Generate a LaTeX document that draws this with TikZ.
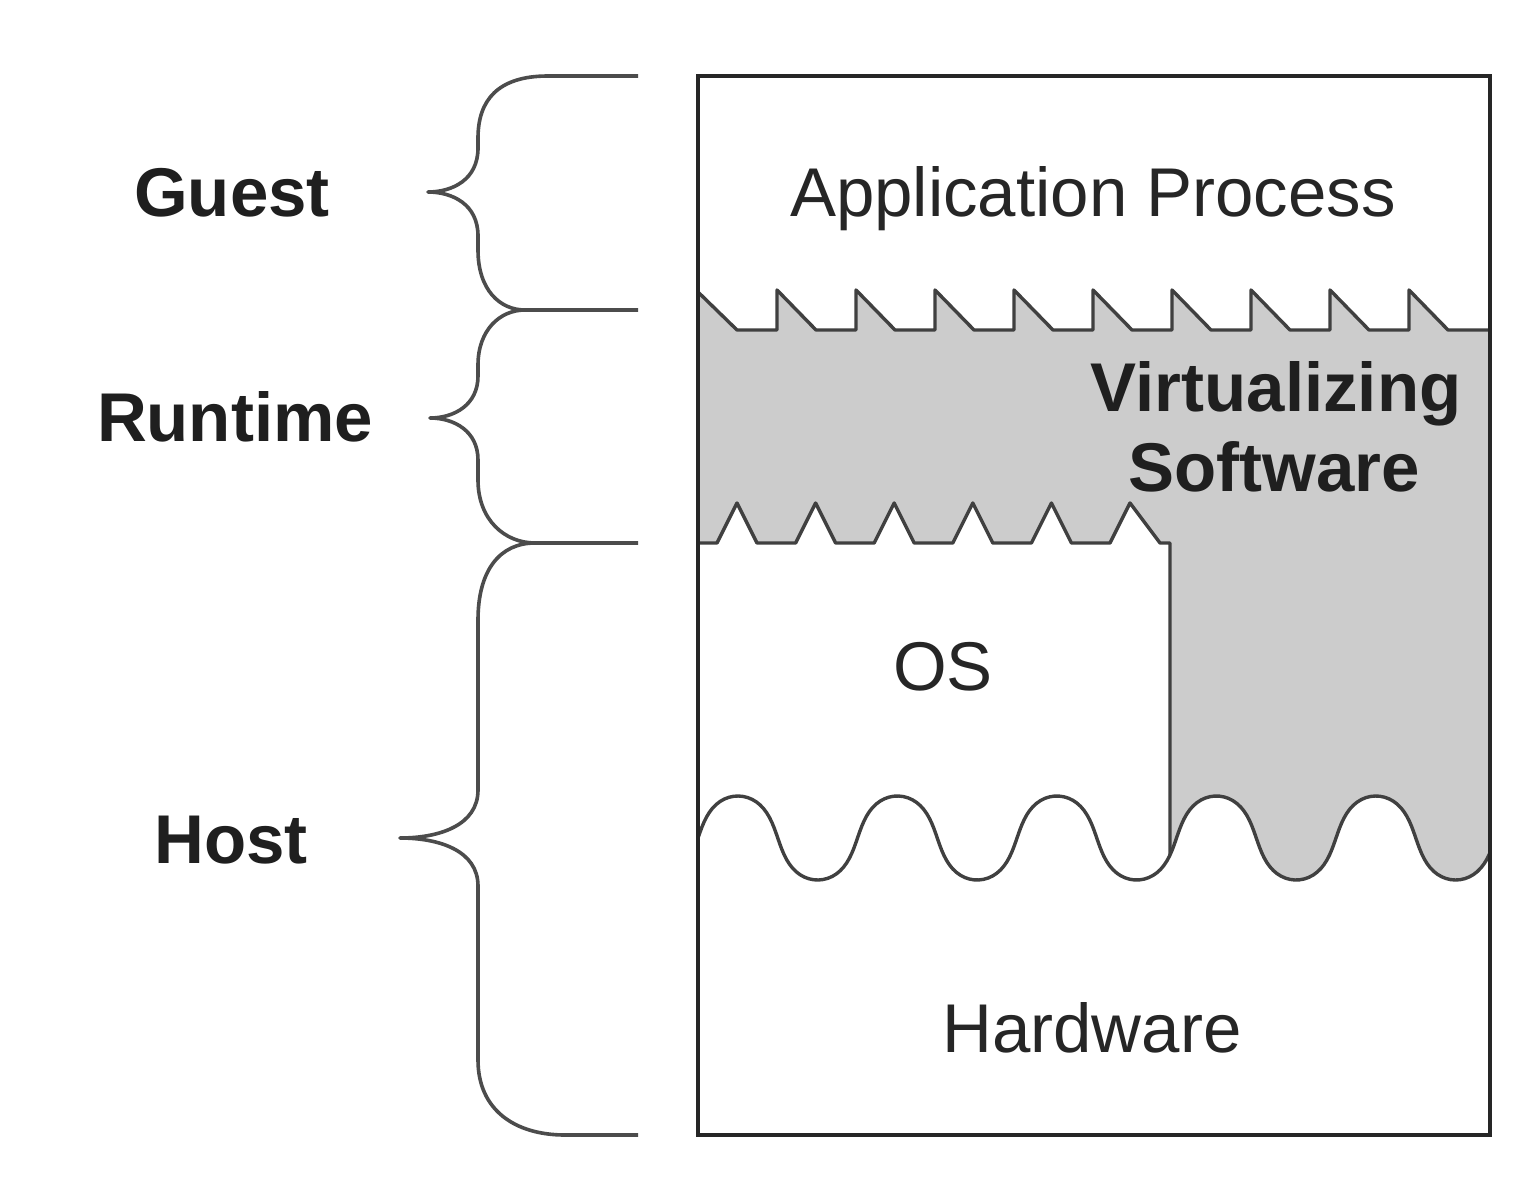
\documentclass[tikz,border=0pt]{standalone}
\usepackage{fontspec}
\setmainfont{Liberation Sans}
\begin{document}
\begin{tikzpicture}[x=1pt,y=-1pt,
  declare function={wx(\t)=698+\t/360*159.5-5.5*sin(2*\t); wy(\t)=838-42*sin(\t);},
  lbl/.style={font=\fontsize{69}{80}\selectfont\bfseries, text=black!88, anchor=base, inner sep=0pt},
  txt/.style={font=\fontsize{69}{80}\selectfont, text=black!85, anchor=base, inner sep=0pt},
  ln/.style={line width=3.4pt, draw=black!75, line join=round},
  brace/.style={line width=3.6pt, draw=black!70, line join=round}]
\useasboundingbox (0,0) rectangle (1530,1182);
\fill[white] (0,0) rectangle (1530,1182);
% gray virtualizing region
\fill[black!20] (698,292) -- (737,330)
  \foreach \i in {1,...,9} { -- ({698+79*\i},330) -- ({698+79*\i},290) -- ({737+79*\i},330) }
  -- (1490,330) -- (1490,900) -- (698,900) -- cycle;
% OS region white
\fill[white] (698,543) -- (717,543)
  \foreach \p in {737,815.6,894.2,972.8,1051.4} { -- (\p-20,543) -- (\p,503) -- (\p+20,543) }
  -- (1110,543) -- (1130,503) -- (1160,543) -- (1170,543) -- (1170,900) -- (698,900) -- cycle;
% lower sawtooth and OS right side
\draw[ln] (698,543) -- (717,543)
  \foreach \p in {737,815.6,894.2,972.8,1051.4} { -- (\p-20,543) -- (\p,503) -- (\p+20,543) }
  -- (1110,543) -- (1130,503) -- (1160,543) -- (1170,543) -- (1170,900);
\begin{scope}
\clip (698,0) rectangle (1490,1182);
% hardware region white
\fill[white] plot[domain=0:1800,samples=240] ({wx(\x)},{wy(\x)}) -- (1500,1135) -- (698,1135) -- cycle;
\draw[ln] plot[domain=0:1800,samples=240] ({wx(\x)},{wy(\x)});
\end{scope}
% upper sawtooth
\draw[ln] (698,292) -- (737,330)
  \foreach \i in {1,...,9} { -- ({698+79*\i},330) -- ({698+79*\i},290) -- ({737+79*\i},330) }
  -- (1490,330);
\draw[line width=3.4pt, draw=black!85] (698,76) rectangle (1490,1135);
% braces
\draw[brace] (638,76) -- (548,76) .. controls (498,76) and (478,100) .. (478,138) -- (478,148)
  .. controls (478,180) and (452,192) .. (428,192) .. controls (452,192) and (478,204) .. (478,236)
  -- (478,250) .. controls (478,290) and (500,310) .. (525,310) -- (638,310);
\draw[brace] (525,310) .. controls (500,310) and (478,330) .. (478,365) -- (478,376)
  .. controls (478,405) and (454,418) .. (430,418) .. controls (454,418) and (478,431) .. (478,460)
  -- (478,480) .. controls (478,520) and (505,543) .. (535,543) -- (638,543);
\draw[brace] (535,543) .. controls (500,543) and (478,570) .. (478,620) -- (478,790)
  .. controls (478,825) and (440,838) .. (400,838) .. controls (440,838) and (478,851) .. (478,886)
  -- (478,1060) .. controls (478,1110) and (515,1135) .. (565,1135) -- (638,1135);
% texts
\node[lbl] (guest) at (232,217) {Guest};
\node[lbl] (runtime) at (235,441) {Runtime};
\node[lbl] (host) at (231,863) {Host};
\node[txt] (app) at (1093,217) {Application Process};
\node[lbl] (virt) at (1276,411) {Virtualizing};
\node[lbl] (soft) at (1274,491) {Software};
\node[txt] (os) at (943,690) {OS};
\node[txt] (hw) at (1092,1052) {Hardware};
\end{tikzpicture}
\end{document}
